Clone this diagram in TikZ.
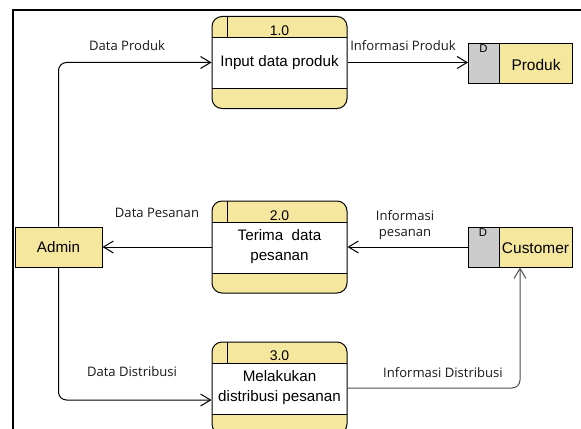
\documentclass[tikz,border=0pt]{standalone}
\usepackage{fontspec}
\setmainfont{Liberation Sans}
\newfontfamily\lblfont{Open Sans}
\usetikzlibrary{arrows.meta,calc}
\definecolor{dfdyellow}{RGB}{245,231,158}
\definecolor{tabgrey}{RGB}{204,204,204}

\begin{document}
\begin{tikzpicture}[x=0.75pt,y=-0.75pt,
  base/.style={line width=0.75pt},
  flow/.style={base, draw=black, -{Straight Barb[length=7.5pt,width=9pt]}, rounded corners=6pt},
  lbl/.style={font=\lblfont\fontsize{9.8}{12.5}\selectfont, text=black!90, align=center, inner sep=0pt},
  proc/.style={base, draw, fill=dfdyellow, rounded corners=7.5pt,
    minimum width=101.25pt, minimum height=69pt, inner sep=0pt, align=center,
    font=\fontsize{11.4}{15}\selectfont,
    path picture={
      \begin{scope}[sharp corners]
      \fill[white] ([yshift=-15.75pt]path picture bounding box.north west)
        rectangle ([yshift=15pt]path picture bounding box.south east);
      \draw[base] ([yshift=-15.75pt]path picture bounding box.north west)
        -- ([yshift=-15.75pt]path picture bounding box.north east);
      \draw[base] ([yshift=15pt]path picture bounding box.south west)
        -- ([yshift=15pt]path picture bounding box.south east);
      \draw[base] ([xshift=11.25pt]path picture bounding box.north west)
        -- ([xshift=11.25pt,yshift=-15.75pt]path picture bounding box.north west);
      \end{scope}
    }},
  num/.style={font=\fontsize{10.5}{12}\selectfont, inner sep=0pt, anchor=base},
  store/.style={base, draw, fill=dfdyellow, minimum width=78pt, minimum height=30pt, inner sep=0pt,
    path picture={
      \fill[tabgrey] (path picture bounding box.north west)
        rectangle ([xshift=23.25pt]path picture bounding box.south west);
      \draw[base] ([xshift=23.25pt]path picture bounding box.north west)
        -- ([xshift=23.25pt]path picture bounding box.south west);
    }},
  storetxt/.style={font=\fontsize{11.6}{14}\selectfont, inner sep=0pt},
  tabtxt/.style={font=\fontsize{8.5}{9}\selectfont, inner sep=0pt, anchor=north},
  entity/.style={base, draw, fill=dfdyellow, minimum width=65.25pt, minimum height=30pt,
    inner sep=0pt, font=\fontsize{11.4}{14}\selectfont}
]
\clip (0,0) rectangle (581,428);
\useasboundingbox (0,0) rectangle (581,428);

% page frame
\draw[line width=1.2pt] (13,430) -- (13,10) -- (583,10);

% processes
\node[proc] (p1) at (279.5,62.5) {Input data produk};
\node[num] (p1n) at ($(p1.north)+(0,20)$) {1.0};
\node[proc] (p2) at (279.5,247) {Terima\ \ data\\pesanan};
\node[num] (p2n) at ($(p2.north)+(0,20)$) {2.0};
\node[proc] (p3) at (279.5,388) {Melakukan\\distribusi pesanan};
\node[num] (p3n) at ($(p3.north)+(0,19)$) {3.0};

% data stores
\node[store] (s1) at (520.5,63.5) {};
\node[tabtxt] (s1d) at ($(s1.north west)+(15.5,1.5)$) {D};
\node[storetxt] (s1t) at ($(s1.center)+(15.5,1)$) {Produk};
\node[store] (s2) at (520,247) {};
\node[tabtxt] (s2d) at ($(s2.north west)+(15.5,1.5)$) {D};
\node[storetxt] (s2t) at ($(s2.center)+(15.5,1)$) {Customer};

% external entity
\node[entity] (admin) at (58.5,247) {Admin};

% flows
\draw[flow] (admin.north) |- (p1.west);
\node[lbl] (f1) at (127,46) {Data Produk};

\draw[flow] (p1.east) -- (p1.east -| s1.west);
\node[lbl] (f2) at (403,46) {Informasi Produk};

\draw[flow] (s2.west) -- (p2.east);
\node[lbl] (f3) at (405,225) {Informasi\\pesanan};

\draw[flow] (p2.west) -- (admin.east);
\node[lbl] (f4) at (157,213) {Data Pesanan};

\coordinate (p3in) at ($(p3.west)+(0,12)$);
\draw[flow] (admin.south) |- (p3in);
\node[lbl] (f5) at (132,372) {Data Distribusi};

\draw[flow, draw=black!70] (p3.east) -| (s2.south);
\node[lbl] (f6) at (443,373) {Informasi Distribusi};
\end{tikzpicture}
\end{document}
